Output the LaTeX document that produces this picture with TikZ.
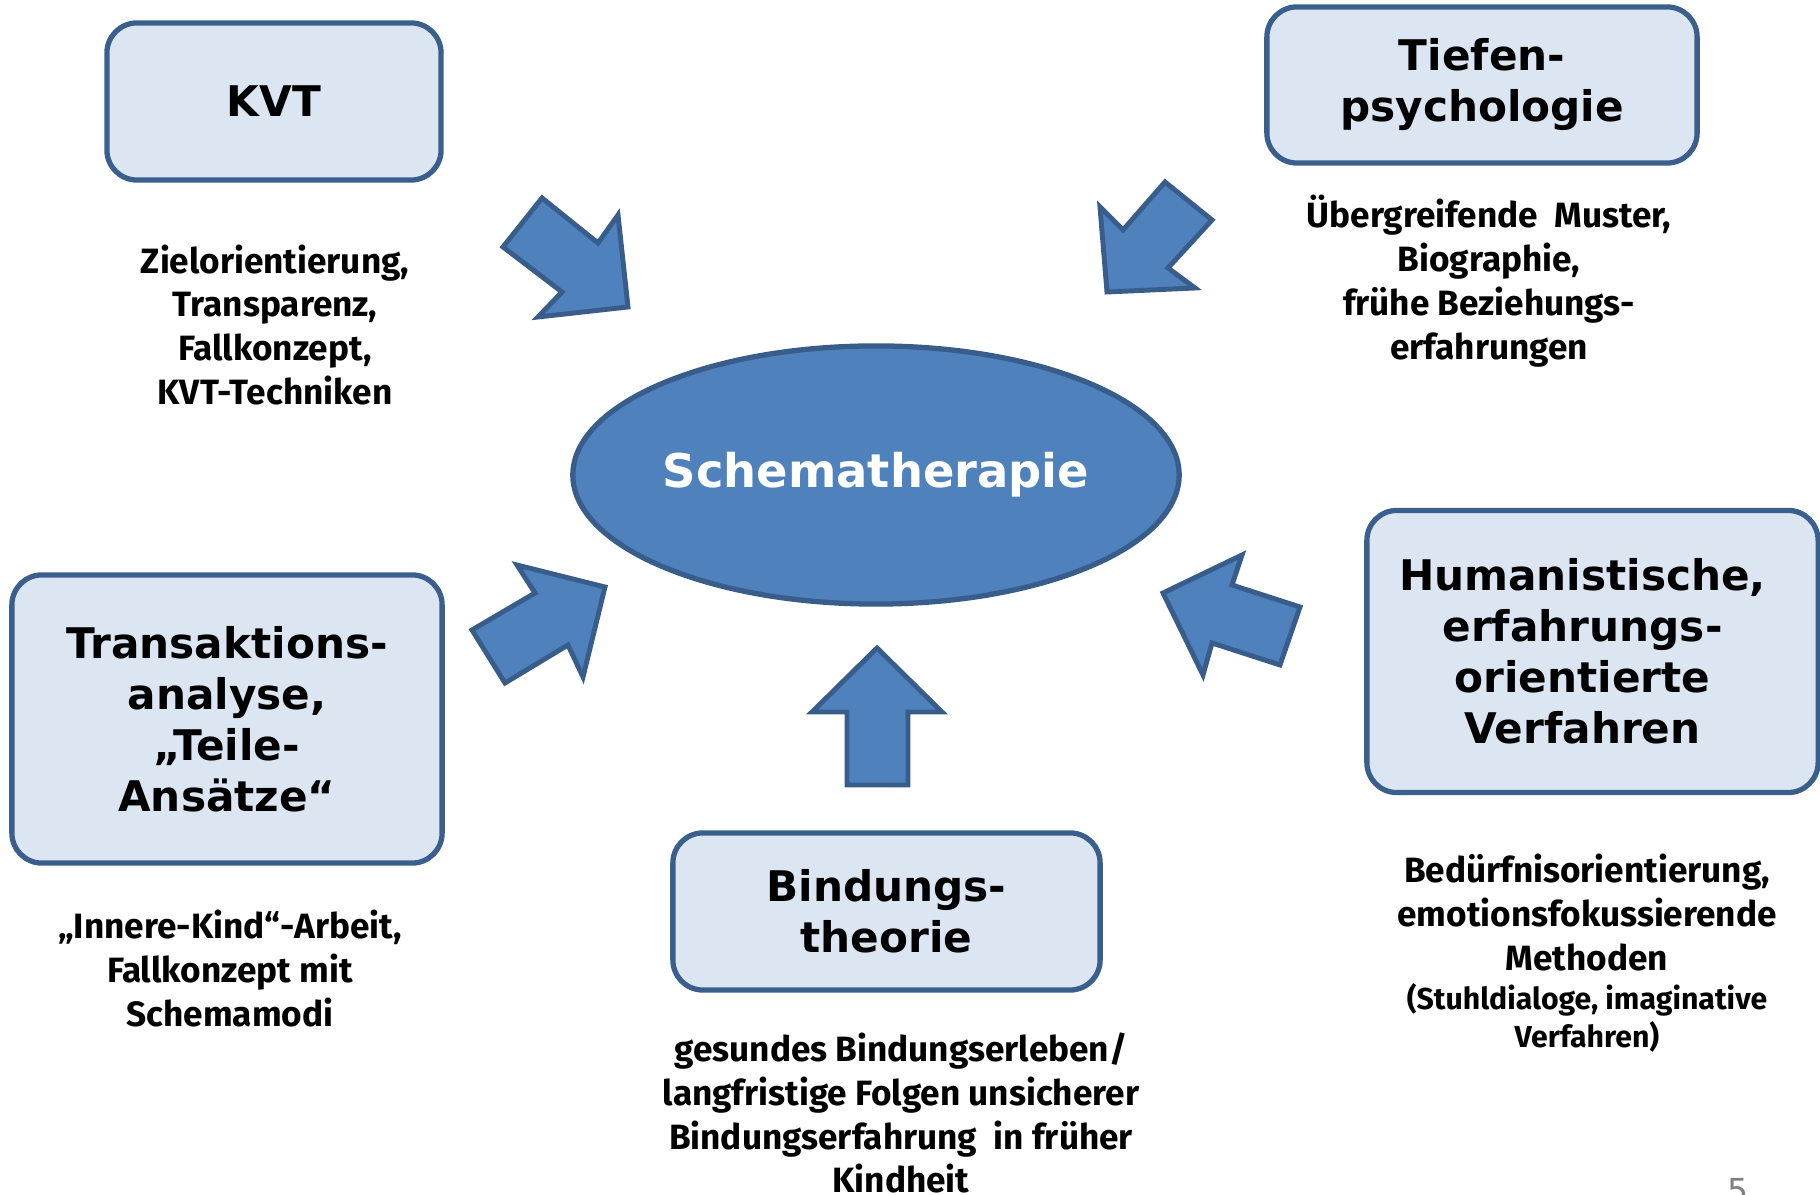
\documentclass[tikz,border=0pt]{standalone}
\usepackage{fontspec}
\setmainfont{Fira Sans}
\newfontfamily\headfont{DejaVu Sans}
\usetikzlibrary{shapes.geometric}
\definecolor{boxfill}{HTML}{DCE6F2}
\definecolor{boxline}{HTML}{3B5F8D}
\definecolor{arrowfill}{HTML}{4F81BD}
\definecolor{arrowline}{HTML}{385D8A}
\begin{document}
\begin{tikzpicture}[x=0.01cm,y=-0.01cm,
  topic/.style={draw=boxline, fill=boxfill, line width=1.5pt, rounded corners=0.3cm,
    align=center, inner sep=0pt, font=\headfont\bfseries\fontsize{12}{14.5}\selectfont},
  note/.style={align=center, inner sep=0pt, font=\bfseries\fontsize{10}{12.5}\selectfont},
  smallnote/.style={align=center, inner sep=0pt, font=\bfseries\fontsize{8.6}{10.8}\selectfont},
  blockarrow/.style={draw=arrowline, fill=arrowfill, line width=1.4pt, line join=miter},
  core/.style={ellipse, draw=arrowline, fill=arrowfill, line width=1.5pt, inner sep=0pt,
    text=white, font=\headfont\bfseries\fontsize{13.2}{15}\selectfont}]
\useasboundingbox (0,0) rectangle (1820,1195);

% central ellipse
\node[core, minimum width=6.06cm, minimum height=2.58cm] (center) at (876,475) {Schematherapie};

% surrounding approaches
\node[topic, minimum width=3.34cm, minimum height=1.57cm] (kvt) at (274,101.5) {KVT};
\node[topic, minimum width=4.30cm, minimum height=1.56cm] (tiefen) at (1482,85) {Tiefen-\\psychologie};
\node[topic, minimum width=4.30cm, minimum height=2.88cm] (ta) at (227,719) {Transaktions-\\analyse,\\„Teile-\\Ansätze“};
\node[topic, minimum width=4.51cm, minimum height=2.82cm] (hum) at (1592.5,651.5)
  {Humanistische,\kern0.2cm\\erfahrungs-\kern0.2cm\\orientierte\kern0.2cm\\Verfahren\kern0.2cm};
\node[topic, minimum width=4.27cm, minimum height=1.57cm] (bind) at (886.5,911.5) {Bindungs-\\theorie};

% descriptions
\node[note] (kvtnote) at (275,325) {Zielorientierung,\\Transparenz,\\Fallkonzept,\\KVT-Techniken};
\node[note] (tiefnote) at (1489,281) {Übergreifende\ \ Muster,\\Biographie,\\frühe Beziehungs-\\erfahrungen};
\node[note] (tanote) at (230,969) {„Innere-Kind“-Arbeit,\\Fallkonzept mit\\Schemamodi};
\node[note] (bindnote) at (901,1113) {gesundes Bindungserleben/\\langfristige Folgen unsicherer\\Bindungserfahrung\ \ in früher\\Kindheit};
\node[note] (humnote) at (1587,913) {Bedürfnisorientierung,\\emotionsfokussierende\\Methoden};
\node[smallnote] (humnote2) at (1587,1018) {(Stuhldialoge, imaginative\\Verfahren)};

% block arrows pointing at the centre
\draw[blockarrow] (503,247) -- (542,198) -- (598,243) -- (618,215) -- (628,307) -- (538,317) -- (562,292) -- cycle;
\draw[blockarrow] (1107,292) -- (1100,207) -- (1123,230) -- (1165,182) -- (1212,220) -- (1168,268) -- (1195,288) -- cycle;
\draw[blockarrow] (472,630) -- (535,593) -- (517,565) -- (605,587) -- (583,677) -- (568,645) -- (505,683) -- cycle;
\draw[blockarrow] (877,648) -- (812,712) -- (847,712) -- (847,785) -- (908,785) -- (908,712) -- (942,712) -- cycle;
\draw[blockarrow] (1163,593) -- (1242,555) -- (1232,585) -- (1300,607) -- (1280,665) -- (1212,643) -- (1203,675) -- cycle;

% page number
\node[anchor=north, inner sep=0pt, text=black!50, font=\headfont\fontsize{9.4}{11}\selectfont] (pagenum) at (1738,1178) {5};
\end{tikzpicture}
\end{document}
